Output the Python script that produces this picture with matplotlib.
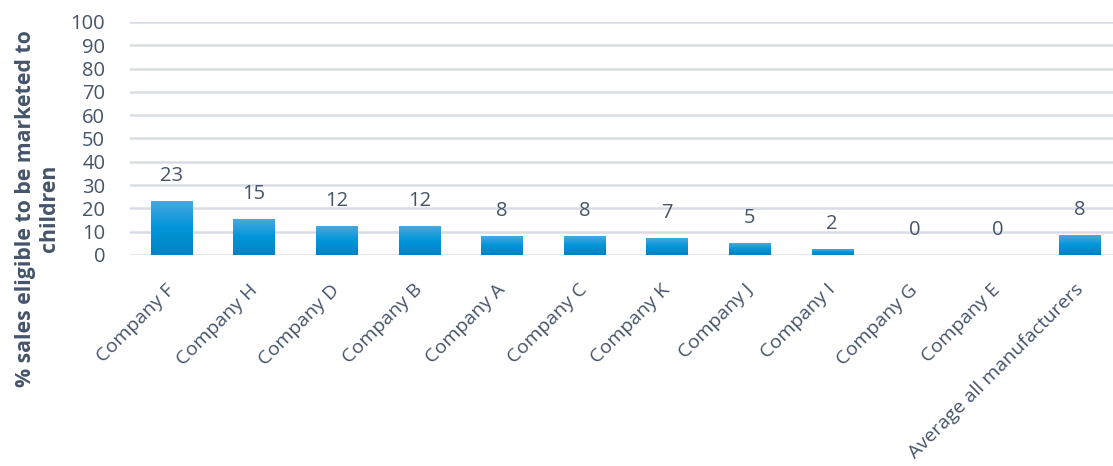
import numpy as np
import matplotlib.pyplot as plt
import matplotlib.transforms as mtransforms
from matplotlib.colors import LinearSegmentedColormap

# Datos del grafico
empresas = ['Company F', 'Company H', 'Company D', 'Company B', 'Company A', 'Company C',
            'Company K', 'Company J', 'Company I', 'Company G', 'Company E',
            'Average all manufacturers']
valores = [23.2, 15.4, 12.3, 12.2, 8.1, 8.0, 7.2, 5.0, 2.4, 0.0, 0.0, 8.4]
etiquetas = ['23', '15', '12', '12', '8', '8', '7', '5', '2', '0', '0', '8']
yticks = list(range(0, 101, 10))

texto = '#44546a'
plt.rcParams['font.family'] = ['Open Sans', 'DejaVu Sans']

fig = plt.figure(figsize=(11.13, 4.66), dpi=100)
ax = fig.add_axes([0.117, 0.453, 0.883, 0.5])

# Degradado de las barras
cmap = LinearSegmentedColormap.from_list('barra', ['#0082c6', '#0096d9', '#4aa8df'])
grad = np.linspace(0, 1, 256).reshape(-1, 1)
ancho = 0.5
barras = ax.bar(range(len(empresas)), valores, width=ancho, color='none', zorder=3)
for b in barras:
    x0 = b.get_x()
    h = b.get_height()
    if h <= 0:
        continue
    im = ax.imshow(grad, cmap=cmap, origin='lower', aspect='auto',
                   extent=[x0, x0 + ancho, 0, h], zorder=3)
    im.set_clip_path(b)

ax.set_xlim(-0.5, 11.4)
ax.set_ylim(0, 100)

# Etiquetas de datos
for i, (v, t) in enumerate(zip(valores, etiquetas)):
    ax.annotate(t, (i, v), xytext=(0, 18), textcoords='offset points',
                ha='center', va='center', fontsize=14.5, color=texto)

# Rejilla
ax.set_yticks(yticks)
ax.yaxis.grid(True, color='#d9dde3', linewidth=1.8, zorder=0)
ax.set_axisbelow(True)
for s in ax.spines.values():
    s.set_visible(False)
ax.tick_params(axis='both', length=0, labelcolor=texto)
ax.tick_params(axis='y', pad=18, labelsize=14.5)

ax.set_xticks(range(len(empresas)))
ax.set_xticklabels(empresas, rotation=45, ha='right', rotation_mode='anchor', fontsize=14)
desplazar = mtransforms.ScaledTranslation(-6 / 100, -21 / 100, fig.dpi_scale_trans)
for lab in ax.get_xticklabels():
    lab.set_transform(lab.get_transform() + desplazar)

fig.text(0.034, 0.553, '% sales eligible to be marketed to\nchildren', rotation=90,
         ha='center', va='center', fontsize=15.3, fontweight='bold', color=texto,
         multialignment='center', linespacing=1.2)

fig.savefig('out.png', dpi=100)
